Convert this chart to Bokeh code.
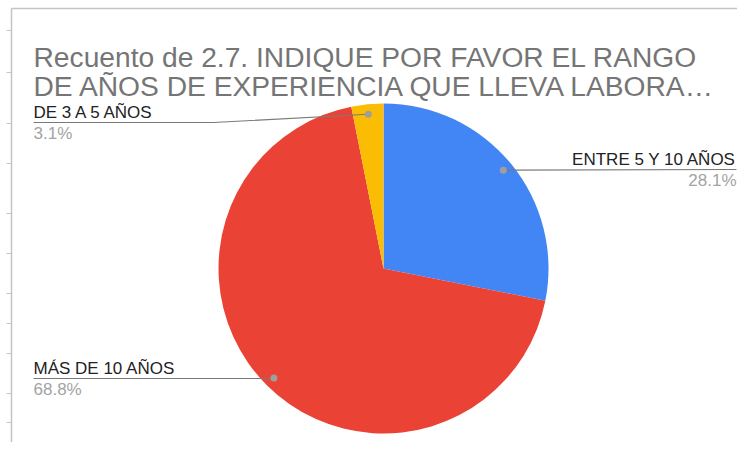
import math
from bokeh.plotting import figure
from bokeh.models import Range1d, ColumnDataSource
from bokeh.core.properties import value
from bokeh.embed import file_html
from bokeh.resources import INLINE

# ---- data ----
title_lines = ["Recuento de 2.7. INDIQUE POR FAVOR EL RANGO",
               "DE AÑOS DE EXPERIENCIA QUE LLEVA LABORA…"]
categories = ["ENTRE 5 Y 10 AÑOS", "MÁS DE 10 AÑOS", "DE 3 A 5 AÑOS"]
counts = [9, 22, 1]
colors = ["#4285F4", "#EA4335", "#FBBC04"]

# ---- layout (screen-like coordinates: data y = 442 - screen y) ----
W, H = 737, 442


def sy(y):
    return H - y


p = figure(width=W, height=H, x_range=Range1d(0, W), y_range=Range1d(0, H),
           output_backend="svg", toolbar_location=None, min_border=0,
           x_axis_type=None, y_axis_type=None)
p.grid.visible = False
p.outline_line_color = None
p.background_fill_color = "white"
p.border_fill_color = "white"

FONT = value("Liberation Sans")

# frame lines (sheet chart border) and row ticks
p.line([11, W], [sy(8), sy(8)], line_color="#c4c4c4", line_width=1.5)
p.line([11, 11], [sy(8), sy(H)], line_color="#c4c4c4", line_width=1.5)
row_ticks = [30, 72, 123, 163, 213, 253, 293, 323, 353, 393, 422]
p.segment(x0=[6] * len(row_ticks), y0=[sy(t) for t in row_ticks],
          x1=[11] * len(row_ticks), y1=[sy(t) for t in row_ticks],
          line_color="#c4c4c4", line_width=1)

# title
p.text(x=[33, 33], y=[sy(56.5), sy(85)], text=title_lines, text_font=FONT,
       text_font_size="28.2px", text_color="#757575", text_baseline="alphabetic")

# pie
cx, cy, R = 383, sy(268), 165
total = sum(counts)
fracs = [c / total for c in counts]
starts, ends, mids = [], [], []
cum = 0.0
for f in fracs:
    a0 = math.pi / 2 - 2 * math.pi * cum
    a1 = math.pi / 2 - 2 * math.pi * (cum + f)
    starts.append(a0)
    ends.append(a1)
    mids.append((a0 + a1) / 2)
    cum += f
src = ColumnDataSource(dict(start=starts, end=ends, color=colors, cat=categories))
p.wedge(x=cx, y=cy, radius=R, start_angle="start", end_angle="end",
        direction="clock", fill_color="color", line_color=None, source=src)

# labels
pcts = ["%.1f%%" % (f * 100) for f in fracs]
label_y = [169, 378, 122]          # screen y of underline
label_side = ["right", "left", "left"]
elbow_x = [None, None, 213]
DOT_R = 155
for i, cat in enumerate(categories):
    dx = cx + DOT_R * math.cos(mids[i])
    dy = cy + DOT_R * math.sin(mids[i])
    ly = sy(label_y[i])
    if label_side[i] == "right":
        xs, ys = [dx, 736], [dy, ly]
        tx, align = 736, "right"
    else:
        ex = elbow_x[i] if elbow_x[i] is not None else dx
        xs, ys = [33, ex, dx], [ly, ly, dy]
        tx, align = 33, "left"
    p.line(xs, ys, line_color="#7a7a7a", line_width=1.2)
    p.scatter([dx], [dy], size=7, fill_color="#9e9e9e", line_color=None)
    p.text(x=[tx], y=[ly + 10], text=[cat], text_font=FONT, text_font_size="17px",
           text_color="#222222", text_align=align, text_baseline="alphabetic")
    p.text(x=[tx], y=[ly - 1], text=[pcts[i]], text_font=FONT, text_font_size="17px",
           text_color="#a3a3a3", text_align=align, text_baseline="top")

open("out.html", "w").write(file_html(p, INLINE))
